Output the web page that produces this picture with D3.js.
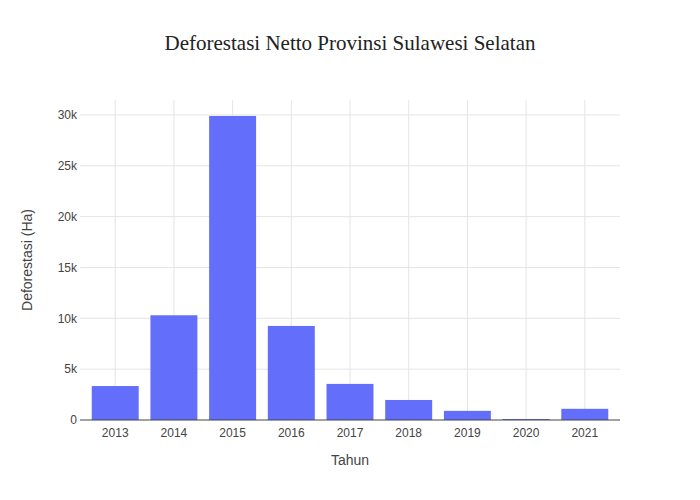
<!DOCTYPE html>
<html><head><meta charset="utf-8">
<script src="https://cdn.jsdelivr.net/npm/d3@7"></script>
<style>body{margin:0;background:#fff}</style></head>
<body><svg id="c" width="700" height="500"></svg>
<script>
const years = ["2013","2014","2015","2016","2017","2018","2019","2020","2021"];
const values = [3340, 10300, 29900, 9250, 3550, 1970, 900, 100, 1100];
const yTicks = [0, 5000, 10000, 15000, 20000, 25000, 30000];

const svg = d3.select("#c");
const m = {l:80, r:80, t:100, b:80};
const W = 700, H = 500;
const x = d3.scaleBand().domain(years).range([m.l, W-m.r]).padding(0.2);
const y = d3.scaleLinear().domain([0, 31470]).range([H-m.b, m.t]);
const font = "'Liberation Sans', Arial, sans-serif";

// grid
svg.append("g").selectAll("line").data(years).join("line")
  .attr("x1", d=>x(d)+x.bandwidth()/2).attr("x2", d=>x(d)+x.bandwidth()/2)
  .attr("y1", m.t).attr("y2", H-m.b).attr("stroke","#e5e5e5");
svg.append("g").selectAll("line").data(yTicks.slice(1)).join("line")
  .attr("x1", m.l).attr("x2", W-m.r).attr("y1", d=>y(d)).attr("y2", d=>y(d)).attr("stroke","#e5e5e5");

svg.append("g").selectAll("rect").data(years).join("rect")
  .attr("x", d=>x(d)).attr("width", x.bandwidth())
  .attr("y", (d,i)=>y(values[i])).attr("height", (d,i)=>y(0)-y(values[i]))
  .attr("fill","#636efa");

svg.append("line").attr("x1",m.l).attr("x2",W-m.r).attr("y1",y(0)).attr("y2",y(0)).attr("stroke","#444").attr("stroke-width",1);

svg.append("g").selectAll("text").data(yTicks).join("text")
  .attr("x", m.l-3).attr("y", d=>y(d)).attr("dy","0.35em").attr("text-anchor","end")
  .attr("font-family",font).attr("font-size",12).attr("fill","#444")
  .text(d=> d===0 ? "0" : (d/1000)+"k");
svg.append("g").selectAll("text").data(years).join("text")
  .attr("x", d=>x(d)+x.bandwidth()/2).attr("y", H-m.b+17).attr("text-anchor","middle")
  .attr("font-family",font).attr("font-size",12).attr("fill","#444").text(d=>d);

svg.append("text").attr("x", (m.l+W-m.r)/2).attr("y", 465).attr("text-anchor","middle")
  .attr("font-family",font).attr("font-size",14).attr("fill","#444").text("Tahun");
svg.append("text").attr("transform",`translate(32,${(m.t+H-m.b)/2}) rotate(-90)`).attr("text-anchor","middle")
  .attr("font-family",font).attr("font-size",14).attr("fill","#444").text("Deforestasi (Ha)");
svg.append("text").attr("x", 350).attr("y", 50).attr("text-anchor","middle")
  .attr("font-family","'Liberation Serif', 'Times New Roman', serif").attr("font-size",21).attr("fill","#222")
  .text("Deforestasi Netto Provinsi Sulawesi Selatan");
</script></body></html>
